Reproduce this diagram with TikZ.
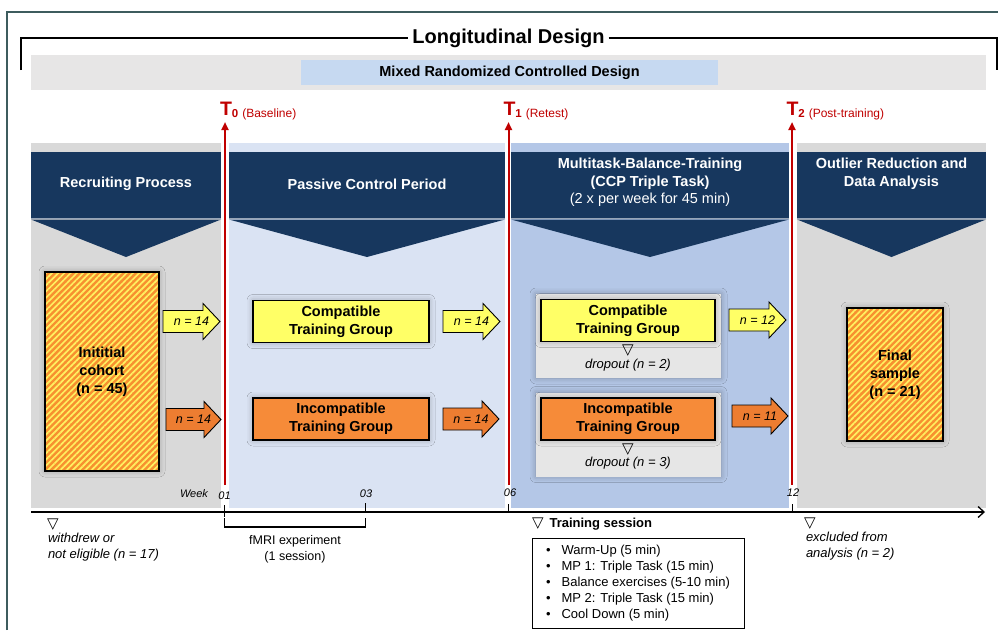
\documentclass[tikz,border=0pt]{standalone}
\usepackage{fontspec}
\setmainfont{Liberation Sans}
\newfontfamily\symf{DejaVu Sans}
\usetikzlibrary{arrows.meta,patterns.meta,shadows.blur}
\definecolor{navy}{HTML}{17375E}
\definecolor{framec}{HTML}{3D5C5E}
\definecolor{bandgray}{HTML}{E7E6E6}
\definecolor{bandblue}{HTML}{C6D9F1}
\definecolor{colgray}{HTML}{D9D9D9}
\definecolor{collight}{HTML}{DAE3F3}
\definecolor{colblue}{HTML}{B4C7E7}
\definecolor{boxyellow}{HTML}{FFFF66}
\definecolor{boxorange}{HTML}{F68B39}
\definecolor{arrorange}{HTML}{ED7D31}
\definecolor{tred}{HTML}{C00000}
\definecolor{stripeO}{HTML}{F7902F}
\definecolor{stripeY}{HTML}{FFF060}
\definecolor{dropgray}{HTML}{E6E6E6}
\newcommand\myfs[2]{\fontsize{#1}{#2}\selectfont}
\newcommand\blockarr[6]{%
  \draw[line width=0.9pt, fill=#4] (#1,#3-11) -- (#2-17,#3-11) -- (#2-17,#3-18) -- (#2,#3) -- (#2-17,#3+18) -- (#2-17,#3+11) -- (#1,#3+11) -- cycle;
  \node[albl] (#6) at ({(#1+#2)/2},#3) {#5};}
\begin{document}
\begin{tikzpicture}[x=1pt,y=-1pt,
  every node/.style={inner sep=0pt, outer sep=0pt},
  hdr/.style={text=white, font={\bfseries\myfs{14.5}{17.5}}, align=center},
  albl/.style={font={\itshape\myfs{12.5}{14}}},
  softshadow/.style={blur shadow={shadow xshift=0pt, shadow yshift=0pt, shadow blur radius=6pt, shadow opacity=30}},
  grpbox/.style={draw, line width=1.3pt, softshadow, align=center, font={\bfseries\myfs{14.5}{18}}, minimum width=176pt, minimum height=42pt},
  hatchbox/.style={draw, line width=1.3pt, softshadow, preaction={fill=stripeO}, pattern={Lines[angle=45,distance=4.4pt,line width=1.7pt]}, pattern color=stripeY, align=center, font={\bfseries\myfs{14.5}{18}}},
  dropbox/.style={fill=dropgray, softshadow, minimum width=185pt, minimum height=84pt},
  tline/.style={tred, line width=2pt, -{Triangle[length=8pt,width=7pt]}},
  tlbl/.style={anchor=base west, text=tred},
  small/.style={font={\itshape\myfs{13}{16}}, align=left},
  wk/.style={font={\itshape\myfs{11}{12}}},
  tri/.style={font={\symf\myfs{15}{15}}},
]
\useasboundingbox (0,0) rectangle (998,630);
\fill[white] (0,0) rectangle (998,630);
% outer frame
\draw[framec, line width=1.2pt] (7,630) -- (7,12) -- (998,12);
% longitudinal design bracket
\node[font={\bfseries\myfs{20}{22}}] (ld) at (508.5,38) {Longitudinal Design};
\draw[line width=1.5pt] (21,70) -- (21,38) -- ([xshift=-4pt]ld.west);
\draw[line width=1.5pt] ([xshift=4pt]ld.east) -- (997,38) -- (997,70);
% mixed band
\fill[bandgray] (31,55) rectangle (986,90);
\node[fill=bandblue, minimum width=417pt, minimum height=25pt, font={\bfseries\myfs{14.5}{16}}] (mixed) at (509.5,72.5) {Mixed Randomized Controlled Design};
% columns
\fill[colgray] (31,143) rectangle (221,508);
\fill[collight] (229,143) rectangle (505,508);
\fill[colblue] (511,143) rectangle (789,508);
\fill[colgray] (797,143) rectangle (986,508);
% header chevrons
\foreach \xa/\xb in {31/221, 229/505, 511/789, 797/986}{
  \fill[navy] (\xa,152) rectangle (\xb,218);
  \draw[navy!45!white, line width=0.8pt] (\xa,218.8) -- (\xb,218.8);
  \fill[navy] (\xa,219.5) -- (\xb,219.5) -- ({(\xa+\xb)/2},257) -- cycle;
}
\node[hdr] (h1) at (126,184) {Recruiting Process};
\node[hdr] (h2) at (367,184) {Passive Control Period};
\node[hdr, anchor=north] (h3) at (650,158) {Multitask-Balance-Training\\(CCP Triple Task)\\\mdseries(2 x per week for 45 min)};
\node[hdr, anchor=north] (h4) at (891.5,158) {Outlier Reduction and\\Data Analysis};
% time point lines
\draw[tline] (225,485) -- (225,122);
\draw[tline] (508.5,485) -- (508.5,122);
\draw[tline] (792,485) -- (792,122);
\node[tlbl] (t0) at (220,115.5) {\bfseries\myfs{19.5}{20}T\raisebox{-2pt}{\myfs{11.5}{12}0\hspace{4pt}\mdseries\myfs{12}{12}(Baseline)}};
\node[tlbl] (t1) at (503.5,115.5) {\bfseries\myfs{19.5}{20}T\raisebox{-2pt}{\myfs{11.5}{12}1\hspace{4pt}\mdseries\myfs{12}{12}(Retest)}};
\node[tlbl] (t2) at (786.5,115.5) {\bfseries\myfs{19.5}{20}T\raisebox{-2pt}{\myfs{11.5}{12}2\hspace{4pt}\mdseries\myfs{12}{12}(Post-training)}};
% cohort boxes
\node[hatchbox, minimum width=114pt, minimum height=199pt] (cohort) at (102,371.5) {Inititial\\cohort\\(n = 45)};
\node[hatchbox, minimum width=96pt, minimum height=133pt] (final) at (895,374.5) {Final\\sample\\(n = 21)};
% passive control groups
\node[grpbox, fill=boxyellow] (pc) at (341,321.5) {Compatible\\Training Group};
\node[grpbox, fill=boxorange] (pi) at (341,419) {Incompatible\\Training Group};
% training groups
\node[dropbox] (dc) at (628.5,336) {};
\node[dropbox] (di) at (628.5,434.5) {};
\node[grpbox, fill=boxyellow, minimum width=174pt] (tc) at (628,320.5) {Compatible\\Training Group};
\node[grpbox, fill=boxorange, minimum width=174pt] (ti) at (628,419) {Incompatible\\Training Group};
\node[tri] (dtc) at (628,351) {▽};
\node[font={\itshape\myfs{13}{14}}] (dc1) at (628,365.5) {dropout (\textit{n} = 2)};
\node[tri] (dti) at (628,449.5) {▽};
\node[font={\itshape\myfs{13}{14}}] (di1) at (628,463.5) {dropout (\textit{n} = 3)};
% block arrows
\blockarr{163}{220}{321.5}{boxyellow}{n = 14}{a1}
\blockarr{166}{221}{419.5}{arrorange}{n = 14}{a2}
\blockarr{443}{500}{321.5}{boxyellow}{n = 14}{a3}
\blockarr{443}{499}{419}{arrorange}{n = 14}{a4}
\blockarr{729}{786}{320}{boxyellow}{n = 12}{a5}
\blockarr{732}{788}{416}{arrorange}{n = 11}{a6}
% timeline
\draw[line width=1.3pt, -{Straight Barb[length=6pt,width=11pt]}] (31,512) -- (985,512);
\draw[line width=1.1pt] (224.5,505) -- (224.5,517);
\draw[line width=1.1pt] (365.5,503) -- (365.5,512);
\draw[line width=1.1pt] (508.5,504) -- (508.5,512);
\draw[line width=1.1pt] (792.5,504) -- (792.5,512);
\node[wk] (week) at (194,494) {Week};
\node[wk] (w01) at (224.5,495.5) {01};
\node[wk] (w03) at (366,494) {03};
\node[wk] (w06) at (510,493) {06};
\node[wk] (w12) at (793,492.5) {12};
% fMRI bracket
\draw[line width=1.1pt] (224.5,518) -- (224.5,527) -- (365.5,527) -- (365.5,518);
\node[font={\myfs{12.5}{15.5}}, align=center] (fmri) at (295,549.5) {fMRI experiment\\(1 session)};
% notes below timeline
\node[tri, anchor=west] (tw) at (47,524.5) {▽};
\node[small, anchor=north west] (withdrew) at (48,533) {withdrew or\\not eligible (\textit{n} = 17)};
\node[tri, anchor=west] (tx) at (804,523.5) {▽};
\node[small, anchor=north west] (excl) at (806,532) {excluded from\\analysis (\textit{n} = 2)};
\node[anchor=west] (ts) at (532,524.5) {{\symf\myfs{15}{15}▽}\hspace{6pt}{\bfseries\myfs{13}{14}Training session}};
\node[draw, line width=0.8pt, anchor=north west, minimum width=212pt, minimum height=90pt, font={\myfs{13}{16}}] (sess) at (532,538) {%
  \renewcommand\arraystretch{1}%
  \begin{tabular}{@{}l@{\hspace{11pt}}l@{}}
  \textbullet & Warm-Up (5 min)\\
  \textbullet & MP 1: Triple Task (15 min)\\
  \textbullet & Balance exercises (5-10 min)\\
  \textbullet & MP 2: Triple Task (15 min)\\
  \textbullet & Cool Down (5 min)
  \end{tabular}};
\end{tikzpicture}
\end{document}
